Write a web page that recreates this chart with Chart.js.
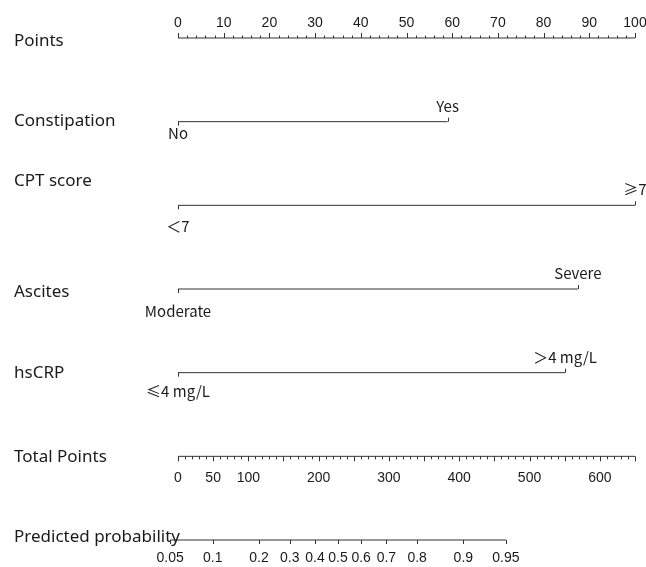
<!DOCTYPE html>
<html>
<head>
<meta charset="utf-8">
<script src="https://cdn.jsdelivr.net/npm/chart.js@4"></script>
<style>
  html, body { margin: 0; padding: 0; background: #fff; overflow: hidden; }
</style>
</head>
<body>
<canvas id="nomogram" width="646" height="567"></canvas>
<script>
// rows of the nomogram, top to bottom
const rowNames = ["Points", "Constipation", "CPT score", "Ascites", "hsCRP", "Total Points", "Predicted probability"];

// predictor levels and their points
const constipationLevels = ["No", "Yes"];
const constipationPoints = [0, 59];
const cptLevels = ["＜7", "≥7"];
const cptPoints = [0, 100];
const ascitesLevels = ["Moderate", "Severe"];
const ascitesPoints = [0, 87.5];
const hscrpLevels = ["≤4 mg/L", "＞4 mg/L"];
const hscrpPoints = [0, 84.7];

// axes
const pointTicks = [0, 10, 20, 30, 40, 50, 60, 70, 80, 90, 100];
const totalTicks = [0, 50, 100, 200, 300, 400, 500, 600];
const totalMax = 650;
const probTicks = [0.05, 0.1, 0.2, 0.3, 0.4, 0.5, 0.6, 0.7, 0.8, 0.9, 0.95];

// linear predictor = intercept + slope * total points
const lpIntercept = -2.807;
const lpSlope = 0.01233;

const predictors = [
    { levels: constipationLevels, points: constipationPoints },
    { levels: cptLevels, points: cptPoints },
    { levels: ascitesLevels, points: ascitesPoints },
    { levels: hscrpLevels, points: hscrpPoints }
];

function logit(p) {
    return Math.log(p / (1 - p));
}

// layout tweaks (pixels)
const rowLabelShift = [3, -1, -24, 3, 0, 1, -3];
const belowBaseline = [17, 27, 28, 24];
const lineColor = "#333";
const textColor = "#1a1a1a";
const labelFont = "17px 'Noto Sans', 'Noto Sans CJK SC', sans-serif";
const levelFont = "15px 'Noto Sans CJK SC', 'Noto Sans', sans-serif";
const tickFont = "14px 'Liberation Sans', Arial, sans-serif";

let datasets = [];
datasets.push({ xAxisID: "x", data: [{ x: 0, y: 0 }, { x: 100, y: 0 }] });
predictors.forEach((p, i) => {
    datasets.push({
        xAxisID: "x",
        data: p.points.map(v => ({ x: v, y: i + 1 }))
    });
});
datasets.push({ xAxisID: "tp", data: [{ x: 0, y: 5 }, { x: totalMax, y: 5 }] });
datasets.push({
    xAxisID: "lp",
    data: [probTicks[0], probTicks[probTicks.length - 1]].map(p => ({ x: logit(p), y: 6 }))
});
datasets.forEach(d => {
    d.showLine = true;
    d.borderColor = lineColor;
    d.borderWidth = 1;
    d.pointRadius = 0;
    d.clip = false;
});

const nomogramPlugin = {
    id: "nomogram",
    afterDraw(chart) {
        let ctx = chart.ctx;
        let x = chart.scales.x;
        let tp = chart.scales.tp;
        let lp = chart.scales.lp;
        let y = chart.scales.y;

        ctx.save();
        ctx.strokeStyle = lineColor;
        ctx.lineWidth = 1;
        ctx.fillStyle = textColor;

        // row names
        ctx.font = labelFont;
        ctx.textAlign = "left";
        ctx.textBaseline = "middle";
        rowNames.forEach((name, i) => {
            ctx.fillText(name, 14, y.getPixelForValue(i) + rowLabelShift[i]);
        });

        function tick(px, py, len) {
            ctx.beginPath();
            ctx.moveTo(Math.round(px) + 0.5, py);
            ctx.lineTo(Math.round(px) + 0.5, py + len);
            ctx.stroke();
        }

        // points axis, ticks up
        let y0 = y.getPixelForValue(0);
        for (let v = 0; v <= 100; v += 2) {
            tick(x.getPixelForValue(v), y0, v % 10 === 0 ? -5 : -2.5);
        }
        ctx.font = tickFont;
        ctx.textAlign = "center";
        ctx.textBaseline = "alphabetic";
        pointTicks.forEach(v => {
            ctx.fillText(String(v), x.getPixelForValue(v), y0 - 11);
        });

        // predictors
        ctx.font = levelFont;
        predictors.forEach((p, i) => {
            let py = y.getPixelForValue(i + 1);
            p.levels.forEach((lev, j) => {
                let px = x.getPixelForValue(p.points[j]);
                let below = j % 2 === 0;
                tick(px, py, below ? 4 : -4);
                ctx.fillText(lev, px, below ? py + belowBaseline[i] : py - 10);
            });
        });

        // total points, ticks down
        let y5 = y.getPixelForValue(5);
        for (let v = 0; v <= totalMax; v += 10) {
            tick(tp.getPixelForValue(v), y5, v % 50 === 0 ? 5 : 3);
        }
        ctx.font = tickFont;
        totalTicks.forEach(v => {
            ctx.fillText(String(v), tp.getPixelForValue(v), y5 + 26);
        });

        // predicted probability, ticks down
        let y6 = y.getPixelForValue(6);
        probTicks.forEach(p => {
            let px = lp.getPixelForValue(logit(p));
            tick(px, y6, 4);
            ctx.fillText(String(p), px, y6 + 22);
        });

        ctx.restore();
    }
};

new Chart(document.getElementById("nomogram"), {
    type: "scatter",
    data: { datasets: datasets },
    options: {
        responsive: false,
        animation: false,
        devicePixelRatio: 1,
        layout: { padding: { left: 178, right: 11, top: 38, bottom: 27 } },
        plugins: { legend: { display: false }, tooltip: { enabled: false } },
        scales: {
            x: { type: "linear", min: 0, max: 100, display: false },
            tp: { type: "linear", axis: "x", min: 0, max: totalMax, display: false },
            lp: { type: "linear", axis: "x", min: lpIntercept, max: lpIntercept + lpSlope * totalMax, display: false },
            y: { type: "linear", min: 0, max: 6, reverse: true, display: false }
        }
    },
    plugins: [nomogramPlugin]
});
</script>
</body>
</html>
